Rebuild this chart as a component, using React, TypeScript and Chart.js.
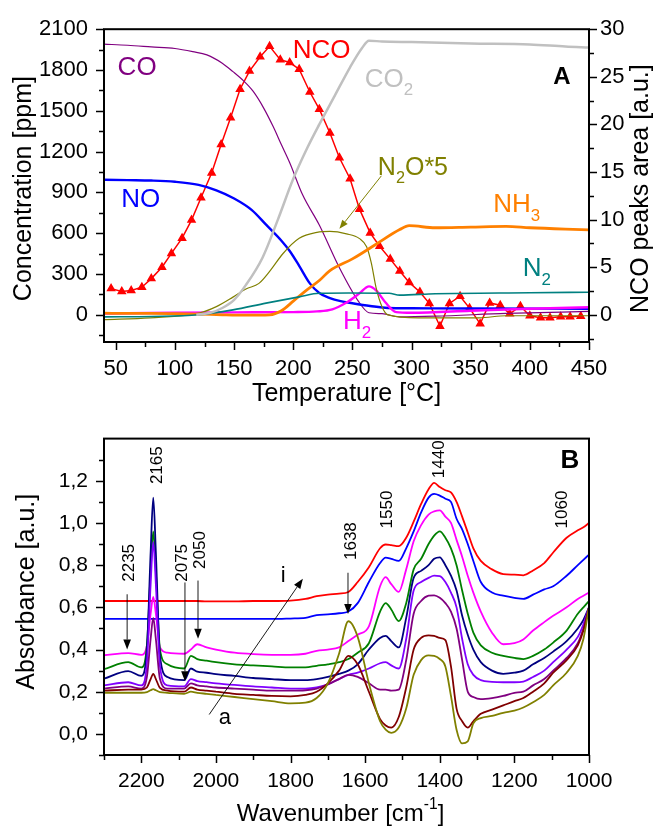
import React, { useEffect, useRef } from "react";
import { Chart, registerables } from "chart.js";

Chart.register(...registerables);

const FONT = '"Liberation Sans", Arial, Helvetica, sans-serif';

// ---------------- Panel A data (temperature in °C) ----------------
const coT = [40, 60, 80, 100, 115, 127, 140, 149, 158, 166, 175, 183, 190, 197, 208, 222, 239, 255, 264, 275, 290, 320, 380, 450];
const coPpm = [1990, 1982, 1970, 1958, 1935, 1911, 1850, 1788, 1720, 1644, 1520, 1384, 1250, 1118, 880, 660, 346, 100, 15, 8, -15, -10, 10, 25];

const noT = [40, 60, 80, 100, 120, 135, 150, 165, 177, 190, 197, 205, 214, 222, 231, 240, 250, 265, 280, 300, 350, 450];
const noPpm = [993, 990, 987, 978, 955, 915, 855, 770, 663, 545, 469, 360, 231, 160, 122, 100, 85, 65, 50, 48, 46, 45];

const co2T = [118, 130, 140, 150, 160, 174, 187, 200, 212, 222, 235, 248, 258, 264, 275, 300, 350, 400, 430, 450];
const co2Ppm = [0, 15, 50, 110, 220, 420, 700, 1000, 1230, 1400, 1610, 1820, 1960, 2015, 2010, 2005, 1995, 1988, 1972, 1965];

const nh3T = [40, 60, 80, 100, 120, 140, 160, 180, 190, 200, 211, 222, 231, 250, 270, 290, 298, 320, 350, 380, 400, 430, 450];
const nh3Ppm = [12, 10, 10, 8, 5, 0, -3, 0, 30, 100, 180, 252, 325, 411, 519, 627, 655, 640, 645, 650, 640, 630, 625];

const n2T = [40, 80, 120, 149, 177, 205, 222, 247, 281, 290, 320, 400, 450];
const n2Ppm = [-15, -12, 0, 36, 86, 132, 158, 160, 158, 145, 155, 162, 166];

const h2T = [40, 100, 150, 200, 220, 233, 245, 256, 264, 270, 278, 287, 300, 350, 400, 450];
const h2Ppm = [10, 15, 18, 20, 25, 40, 90, 158, 209, 180, 90, 20, 15, 30, 45, 55];

const n2oT = [40, 79, 121, 135, 149, 160, 171, 181, 191, 205, 220, 231, 245, 256, 262, 266, 270, 275, 280, 306, 357, 380, 450];
const n2oPpm = [-36, -22, 14, 60, 130, 190, 231, 330, 447, 562, 606, 613, 595, 560, 500, 380, 200, 60, 0, -22, -22, -7, -7];

const ncoT = [46, 55, 63, 72, 80, 89, 97, 106, 114, 122, 131, 139, 147, 155, 163, 172, 180, 189, 197, 205, 214, 222, 231, 239, 248, 256, 265, 273, 282, 290, 298, 307, 315, 324, 332, 341, 349, 358, 366, 375, 383, 392, 400, 409, 417, 426, 434, 443];
const ncoArea = [2.75, 2.45, 2.55, 2.9, 3.8, 5.0, 6.45, 8.05, 9.95, 12.3, 14.9, 17.9, 20.7, 23.7, 25.6, 27.1, 28.2, 26.8, 26.5, 25.8, 23.4, 21.6, 19.1, 16.5, 14.3, 11.1, 8.6, 7.2, 5.85, 4.6, 3.4, 2.4, 1.2, -1.2, 1.2, 1.95, 0.7, -0.95, 1.25, 1.0, 0.1, 0.9, -0.1, -0.3, -0.3, -0.2, -0.2, -0.15];

const A_X_MAJOR = [50, 100, 150, 200, 250, 300, 350, 400, 450];
const A_X_MINOR = [75, 125, 175, 225, 275, 325, 375, 425];
const A_Y_MAJOR = [0, 300, 600, 900, 1200, 1500, 1800, 2100];
const A_Y_MINOR = [-150, 150, 450, 750, 1050, 1350, 1650, 1950];
const A_Y2_MAJOR = [0, 5, 10, 15, 20, 25, 30];
const A_Y2_MINOR = [-2.5, 2.5, 7.5, 12.5, 17.5, 22.5, 27.5];

// ---------------- Panel B data (wavenumber in cm-1) ----------------
const wn = [2300, 2235, 2200, 2185, 2175, 2168, 2161, 2150, 2130, 2085, 2067, 2050, 2025, 2000, 1950, 1900, 1850, 1800, 1760, 1730, 1700, 1670, 1645, 1620, 1590, 1560, 1545, 1530, 1510, 1490, 1470, 1450, 1430, 1415, 1400, 1385, 1370, 1355, 1340, 1325, 1310, 1290, 1260, 1230, 1200, 1176, 1150, 1120, 1096, 1060, 1030, 1015, 1000];

const specA = [0.195, 0.195, 0.195, 0.198, 0.207, 0.212, 0.207, 0.198, 0.195, 0.19,
  0.2, 0.195, 0.19, 0.185, 0.175, 0.165, 0.155, 0.145, 0.148, 0.17,
  0.24, 0.38, 0.534, 0.46, 0.24, 0.06, 0.02, 0.005, 0.03, 0.12,
  0.28, 0.35, 0.372, 0.37, 0.355, 0.32, 0.18, 0.02, -0.045, -0.035,
  0.05, 0.075, 0.085, 0.1, 0.11, 0.125, 0.15, 0.185, 0.23, 0.29,
  0.37, 0.45, 0.6];
const specB = [0.205, 0.21, 0.21, 0.22, 0.26, 0.285, 0.26, 0.218, 0.205, 0.2,
  0.22, 0.21, 0.205, 0.2, 0.19, 0.185, 0.18, 0.178, 0.185, 0.2,
  0.24, 0.3, 0.37, 0.33, 0.2, 0.07, 0.04, 0.03, 0.08, 0.22,
  0.4, 0.455, 0.467, 0.465, 0.455, 0.445, 0.32, 0.12, 0.06, 0.03,
  0.06, 0.095, 0.115, 0.135, 0.155, 0.17, 0.2, 0.24, 0.29, 0.35,
  0.42, 0.49, 0.6];
const specC = [0.215, 0.225, 0.215, 0.27, 0.45, 0.55, 0.45, 0.26, 0.215, 0.215,
  0.24, 0.23, 0.225, 0.22, 0.215, 0.21, 0.205, 0.205, 0.207, 0.215,
  0.235, 0.26, 0.28, 0.27, 0.24, 0.21, 0.21, 0.205, 0.21, 0.35,
  0.57, 0.63, 0.655, 0.657, 0.645, 0.62, 0.58, 0.5, 0.35, 0.2,
  0.175, 0.165, 0.17, 0.18, 0.195, 0.2, 0.23, 0.26, 0.3, 0.36,
  0.43, 0.5, 0.6];
const specD = [0.23, 0.245, 0.23, 0.335, 0.71, 0.91, 0.71, 0.32, 0.23, 0.225,
  0.26, 0.25, 0.245, 0.24, 0.232, 0.225, 0.22, 0.215, 0.215, 0.22,
  0.235, 0.26, 0.28, 0.29, 0.31, 0.335, 0.34, 0.325, 0.31, 0.45,
  0.68, 0.72, 0.74, 0.75, 0.748, 0.72, 0.67, 0.6, 0.45, 0.33,
  0.28, 0.255, 0.247, 0.245, 0.245, 0.248, 0.27, 0.3, 0.34, 0.4,
  0.46, 0.52, 0.6];
const specE = [0.262, 0.298, 0.275, 0.4, 0.86, 1.12, 0.86, 0.37, 0.27, 0.255,
  0.31, 0.295, 0.29, 0.283, 0.275, 0.265, 0.26, 0.255, 0.255, 0.26,
  0.27, 0.285, 0.3, 0.33, 0.4, 0.455, 0.465, 0.44, 0.41, 0.55,
  0.74, 0.773, 0.8, 0.83, 0.837, 0.8, 0.75, 0.68, 0.56, 0.47,
  0.4, 0.34, 0.3, 0.285, 0.29, 0.3, 0.33, 0.36, 0.39, 0.44,
  0.5, 0.54, 0.6];
const specF = [0.307, 0.34, 0.315, 0.42, 0.77, 0.96, 0.77, 0.4, 0.33, 0.31,
  0.37, 0.355, 0.347, 0.34, 0.33, 0.325, 0.32, 0.315, 0.315, 0.323,
  0.33, 0.34, 0.355, 0.385, 0.43, 0.58, 0.62, 0.59, 0.535, 0.62,
  0.78, 0.83, 0.9, 0.94, 0.96, 0.93, 0.88, 0.8, 0.68, 0.57,
  0.48, 0.42, 0.385, 0.37, 0.36, 0.355, 0.37, 0.4, 0.433, 0.49,
  0.57, 0.6, 0.63];
const specG = [0.373, 0.383, 0.375, 0.42, 0.57, 0.65, 0.57, 0.41, 0.385, 0.38,
  0.4, 0.425, 0.41, 0.4, 0.385, 0.378, 0.375, 0.375, 0.38, 0.394,
  0.4, 0.41, 0.44, 0.47, 0.51, 0.7, 0.743, 0.71, 0.673, 0.78,
  0.913, 0.99, 1.04, 1.055, 1.06, 1.03, 1.0, 0.92, 0.84, 0.75,
  0.67, 0.58, 0.48, 0.425, 0.43, 0.448, 0.49, 0.53, 0.56, 0.6,
  0.64, 0.655, 0.67];
const specH = [0.545, 0.545, 0.545, 0.545, 0.545, 0.545, 0.545, 0.545, 0.545, 0.545,
  0.545, 0.545, 0.545, 0.545, 0.545, 0.545, 0.545, 0.547, 0.55, 0.563,
  0.567, 0.572, 0.58, 0.62, 0.72, 0.81, 0.836, 0.83, 0.82, 0.88,
  0.96, 1.05, 1.12, 1.138, 1.13, 1.115, 1.1, 1.02, 0.97, 0.9,
  0.82, 0.72, 0.67, 0.655, 0.645, 0.64, 0.66, 0.685, 0.7, 0.75,
  0.8, 0.825, 0.85];
const specI = [0.63, 0.63, 0.63, 0.63, 0.63, 0.63, 0.63, 0.63, 0.63, 0.63,
  0.63, 0.63, 0.628, 0.628, 0.628, 0.63, 0.63, 0.632, 0.64, 0.653,
  0.66, 0.665, 0.673, 0.72, 0.79, 0.88, 0.898, 0.895, 0.89, 0.93,
  1.006, 1.09, 1.16, 1.19, 1.17, 1.155, 1.145, 1.1, 1.03, 0.955,
  0.88, 0.82, 0.78, 0.758, 0.755, 0.752, 0.775, 0.81, 0.86, 0.93,
  0.965, 0.98, 1.0];

const B_X_MAJOR = [2200, 2000, 1800, 1600, 1400, 1200, 1000];
const B_X_MINOR = [2300, 2100, 1900, 1700, 1500, 1300, 1100];
const B_Y_MAJOR = [0, 0.2, 0.4, 0.6, 0.8, 1.0, 1.2];
const B_Y_MINOR = [-0.1, 0.1, 0.3, 0.5, 0.7, 0.9, 1.1, 1.3];

// ---------------- helpers ----------------
type Part = { t: string; sub?: boolean; sup?: boolean };

function pts(xs: number[], ys: number[]) {
  return xs.map((x, i) => ({ x, y: ys[i] }));
}

function richWidth(ctx: CanvasRenderingContext2D, parts: Part[], size: number, bold: boolean) {
  let w = 0;
  for (const p of parts) {
    const s = p.sub || p.sup ? size * 0.65 : size;
    ctx.font = `${bold ? "bold " : ""}${s}px ${FONT}`;
    w += ctx.measureText(p.t).width;
  }
  return w;
}

function drawRich(ctx: CanvasRenderingContext2D, parts: Part[], x: number, y: number, size: number, color: string, align: "left" | "center", bold = false) {
  let cx = align === "center" ? x - richWidth(ctx, parts, size, bold) / 2 : x;
  ctx.fillStyle = color;
  ctx.textBaseline = "middle";
  ctx.textAlign = "left";
  for (const p of parts) {
    const s = p.sub || p.sup ? size * 0.65 : size;
    ctx.font = `${bold ? "bold " : ""}${s}px ${FONT}`;
    const dy = p.sub ? size * 0.42 : p.sup ? -size * 0.38 : 0;
    ctx.fillText(p.t, cx, y + dy);
    cx += ctx.measureText(p.t).width;
  }
}

function drawRotated(ctx: CanvasRenderingContext2D, parts: Part[], x: number, y: number, size: number, color: string) {
  ctx.save();
  ctx.translate(x, y);
  ctx.rotate(-Math.PI / 2);
  drawRich(ctx, parts, 0, 0, size, color, "center");
  ctx.restore();
}

function arrow(ctx: CanvasRenderingContext2D, x1: number, y1: number, x2: number, y2: number, color: string, lw = 1, head = 9) {
  const ang = Math.atan2(y2 - y1, x2 - x1);
  const hx = x2 - head * Math.cos(ang);
  const hy = y2 - head * Math.sin(ang);
  ctx.strokeStyle = color;
  ctx.fillStyle = color;
  ctx.lineWidth = lw;
  ctx.beginPath();
  ctx.moveTo(x1, y1);
  ctx.lineTo(hx, hy);
  ctx.stroke();
  const w = head * 0.38;
  ctx.beginPath();
  ctx.moveTo(x2, y2);
  ctx.lineTo(hx + w * Math.sin(ang), hy - w * Math.cos(ang));
  ctx.lineTo(hx - w * Math.sin(ang), hy + w * Math.cos(ang));
  ctx.closePath();
  ctx.fill();
}

function tickMarks(ctx: CanvasRenderingContext2D, scale: any, values: number[], len: number, side: string, area: any) {
  ctx.beginPath();
  for (const v of values) {
    const p = Math.round(scale.getPixelForValue(v)) + 0.5;
    if (side === "bottom") {
      ctx.moveTo(p, area.bottom);
      ctx.lineTo(p, area.bottom + len);
    } else if (side === "left") {
      ctx.moveTo(area.left, p);
      ctx.lineTo(area.left - len, p);
    } else {
      ctx.moveTo(area.right, p);
      ctx.lineTo(area.right + len, p);
    }
  }
  ctx.stroke();
}

function frame(ctx: CanvasRenderingContext2D, a: any) {
  ctx.strokeStyle = "#000";
  ctx.lineWidth = 2;
  ctx.strokeRect(a.left, a.top, a.right - a.left, a.bottom - a.top);
}

const fixTicks = (vals: number[]) => (ax: any) => {
  ax.ticks = vals.map((v) => ({ value: v }));
};

function axisBase(size: number, padding: number, fmt: (v: number) => string = (v) => String(v)) {
  return {
    grid: { display: false, drawTicks: false },
    border: { display: false },
    ticks: {
      padding,
      color: "#000",
      font: { family: FONT, size },
      maxRotation: 0,
      autoSkip: false,
      callback: (v: any) => fmt(Number(v)),
    },
  };
}

// ---------------- annotation layout ----------------
const A_LABELS: { parts: Part[]; x: number; y: number; color: string; align: "left" | "center"; bold?: boolean; size: number }[] = [
  { parts: [{ t: "CO" }], x: 68, y: 1818, color: "#800080", align: "center", size: 26 },
  { parts: [{ t: "NCO" }], x: 224, y: 1941, color: "#ff0000", align: "center", size: 26 },
  { parts: [{ t: "CO" }, { t: "2", sub: true }], x: 260.5, y: 1731, color: "#c0c0c0", align: "left", size: 26 },
  { parts: [{ t: "NO" }], x: 71, y: 849, color: "#0000ff", align: "center", size: 26 },
  { parts: [{ t: "NH" }, { t: "3", sub: true }], x: 369, y: 805, color: "#ff8000", align: "left", size: 26 },
  { parts: [{ t: "N" }, { t: "2", sub: true }], x: 394, y: 335, color: "#008080", align: "left", size: 26 },
  { parts: [{ t: "H" }, { t: "2", sub: true }], x: 242, y: -55, color: "#ff00ff", align: "left", size: 26 },
  { parts: [{ t: "N" }, { t: "2", sub: true }, { t: "O*5" }], x: 271.5, y: 1080, color: "#808000", align: "left", size: 25 },
  { parts: [{ t: "A" }], x: 427, y: 1746, color: "#000", align: "center", bold: true, size: 24 },
];

const B_ROT_LABELS = [
  { t: "2165", x: 2158, y: 1.274 },
  { t: "2235", x: 2233, y: 0.811 },
  { t: "2075", x: 2091, y: 0.811 },
  { t: "2050", x: 2043, y: 0.872 },
  { t: "1638", x: 1638, y: 0.914 },
  { t: "1550", x: 1541, y: 1.064 },
  { t: "1440", x: 1402, y: 1.302 },
  { t: "1060", x: 1072, y: 1.064 },
];

const B_ARROWS = [
  { x: 2238, y1: 0.662, y2: 0.4 },
  { x: 2083, y1: 0.718, y2: 0.25 },
  { x: 2048, y1: 0.727, y2: 0.451 },
  { x: 1646, y1: 0.764, y2: 0.568 },
];

const decorA = {
  id: "decorA",
  afterDraw(chart: any) {
    const { ctx, chartArea: a, scales } = chart;
    const X = scales.x, Y = scales.y, Y2 = scales.y2;
    ctx.save();
    frame(ctx, a);
    ctx.lineWidth = 1.5;
    ctx.strokeStyle = "#000";
    tickMarks(ctx, X, A_X_MAJOR, 8, "bottom", a);
    tickMarks(ctx, X, A_X_MINOR, 5, "bottom", a);
    tickMarks(ctx, Y, A_Y_MAJOR, 8, "left", a);
    tickMarks(ctx, Y, A_Y_MINOR, 5, "left", a);
    tickMarks(ctx, Y2, A_Y2_MAJOR, 8, "right", a);
    tickMarks(ctx, Y2, A_Y2_MINOR, 5, "right", a);

    arrow(ctx, X.getPixelForValue(274.5), Y.getPixelForValue(1022), X.getPixelForValue(239), Y.getPixelForValue(632), "#808000", 1, 9);

    for (const l of A_LABELS) {
      drawRich(ctx, l.parts, X.getPixelForValue(l.x), Y.getPixelForValue(l.y), l.size, l.color, l.align, !!l.bold);
    }

    drawRotated(ctx, [{ t: "Concentration [ppm]" }], 24, (a.top + a.bottom) / 2 + 3, 25, "#000");
    drawRotated(ctx, [{ t: "NCO peaks area [a.u.]" }], 641, (a.top + a.bottom) / 2 + 3, 25, "#000");
    drawRich(ctx, [{ t: "Temperature [°C]" }], (a.left + a.right) / 2, 394, 25, "#000", "center");
    ctx.restore();
  },
};

const decorB = {
  id: "decorB",
  afterDraw(chart: any) {
    const { ctx, chartArea: a, scales } = chart;
    const X = scales.x, Y = scales.y;
    ctx.save();
    arrow(ctx, X.getPixelForValue(2018), Y.getPixelForValue(0.092), X.getPixelForValue(1767), Y.getPixelForValue(0.736), "#000", 0.9, 10);
    for (const ar of B_ARROWS) {
      arrow(ctx, X.getPixelForValue(ar.x), Y.getPixelForValue(ar.y1), X.getPixelForValue(ar.x), Y.getPixelForValue(ar.y2), "#000", 0.9, 10);
    }
    frame(ctx, a);
    ctx.lineWidth = 1.5;
    ctx.strokeStyle = "#000";
    tickMarks(ctx, X, B_X_MAJOR, 8, "bottom", a);
    tickMarks(ctx, X, B_X_MINOR, 5, "bottom", a);
    tickMarks(ctx, Y, B_Y_MAJOR, 8, "left", a);
    tickMarks(ctx, Y, B_Y_MINOR, 5, "left", a);

    for (const l of B_ROT_LABELS) {
      drawRotated(ctx, [{ t: l.t }], X.getPixelForValue(l.x), Y.getPixelForValue(l.y), 17, "#000");
    }
    drawRich(ctx, [{ t: "a" }], X.getPixelForValue(1976), Y.getPixelForValue(0.078), 22, "#000", "center");
    drawRich(ctx, [{ t: "i" }], X.getPixelForValue(1820), Y.getPixelForValue(0.75), 22, "#000", "center");
    drawRich(ctx, [{ t: "B" }], X.getPixelForValue(1051), Y.getPixelForValue(1.293), 26, "#000", "center", true);

    drawRotated(ctx, [{ t: "Absorbance [a.u.]" }], 27, (a.top + a.bottom) / 2 - 5, 25, "#000");
    drawRich(ctx, [{ t: "Wavenumber [cm" }, { t: "-1", sup: true }, { t: "]" }], (a.left + a.right) / 2 - 6, 404, 24, "#000", "center");
    ctx.restore();
  },
};

function ds(label: string, data: any[], color: string, width: number, extra: any = {}) {
  return {
    label,
    data,
    borderColor: color,
    backgroundColor: color,
    borderWidth: width,
    pointRadius: 0,
    cubicInterpolationMode: "monotone",
    ...extra,
  };
}

export default function App() {
  const refA = useRef<HTMLCanvasElement>(null);
  const refB = useRef<HTMLCanvasElement>(null);

  useEffect(() => {
    const common = {
      animation: false as const,
      responsive: false,
      devicePixelRatio: 1,
      plugins: { legend: { display: false }, tooltip: { enabled: false } },
    };

    const chartA = new Chart(refA.current!, {
      type: "line",
      data: {
        datasets: [
          ds("CO2", pts(co2T, co2Ppm), "#c0c0c0", 2.5),
          ds("N2", pts(n2T, n2Ppm), "#008080", 1.6),
          ds("NH3", pts(nh3T, nh3Ppm), "#ff8000", 2.8),
          ds("N2O*5", pts(n2oT, n2oPpm), "#808000", 1.2),
          ds("H2", pts(h2T, h2Ppm), "#ff00ff", 2.4),
          ds("NO", pts(noT, noPpm), "#0000ff", 2.4),
          ds("CO", pts(coT, coPpm), "#800080", 1.2),
          ds("NCO", pts(ncoT, ncoArea), "#ff0000", 1.5, {
            yAxisID: "y2",
            pointRadius: 4,
            pointStyle: "triangle",
            cubicInterpolationMode: "default",
            tension: 0,
          }),
        ] as any,
      },
      options: {
        ...common,
        layout: { padding: { top: 24, left: 0, right: 0, bottom: 0 } },
        scales: {
          x: {
            type: "linear",
            min: 40,
            max: 450,
            afterBuildTicks: fixTicks(A_X_MAJOR),
            afterFit: (ax: any) => { ax.height = 68; },
            ...axisBase(22, 14),
          },
          y: {
            type: "linear",
            min: -200,
            max: 2100,
            afterBuildTicks: fixTicks(A_Y_MAJOR),
            afterFit: (ax: any) => { ax.width = 104; },
            ...axisBase(22, 16),
          },
          y2: {
            type: "linear",
            position: "right",
            min: -200 / 70,
            max: 30,
            afterBuildTicks: fixTicks(A_Y2_MAJOR),
            afterFit: (ax: any) => { ax.width = 65; },
            ...axisBase(22, 11),
          },
        },
      } as any,
      plugins: [decorA],
    });

    const spectra = [
      ["a", specA, "#808000"],
      ["b", specB, "#800000"],
      ["c", specC, "#800080"],
      ["d", specD, "#8000ff"],
      ["e", specE, "#000080"],
      ["f", specF, "#008000"],
      ["g", specG, "#ff00ff"],
      ["h", specH, "#0000ff"],
      ["i", specI, "#ff0000"],
    ] as [string, number[], string][];

    const chartB = new Chart(refB.current!, {
      type: "line",
      data: {
        datasets: spectra.map(([n, s, c]) => ds(n, pts(wn, s), c, 1.8)) as any,
      },
      options: {
        ...common,
        layout: { padding: { top: 24, left: 0, right: 65, bottom: 0 } },
        scales: {
          x: {
            type: "linear",
            reverse: true,
            min: 1000,
            max: 2300,
            afterBuildTicks: fixTicks(B_X_MAJOR),
            afterFit: (ax: any) => { ax.height = 71; },
            ...axisBase(21, 14),
          },
          y: {
            type: "linear",
            min: -0.1,
            max: 1.4,
            afterBuildTicks: fixTicks(B_Y_MAJOR),
            afterFit: (ax: any) => { ax.width = 104; },
            ...axisBase(21, 16, (v) => v.toFixed(1).replace(".", ",")),
          },
        },
      } as any,
      plugins: [decorB],
    });

    return () => {
      chartA.destroy();
      chartB.destroy();
    };
  }, []);

  return (
    <div style={{ position: "absolute", left: 0, top: 0, width: 654, height: 826, background: "#fff" }}>
      <canvas ref={refA} width={654} height={410} style={{ display: "block" }} />
      <canvas ref={refB} width={654} height={416} style={{ display: "block" }} />
    </div>
  );
}
